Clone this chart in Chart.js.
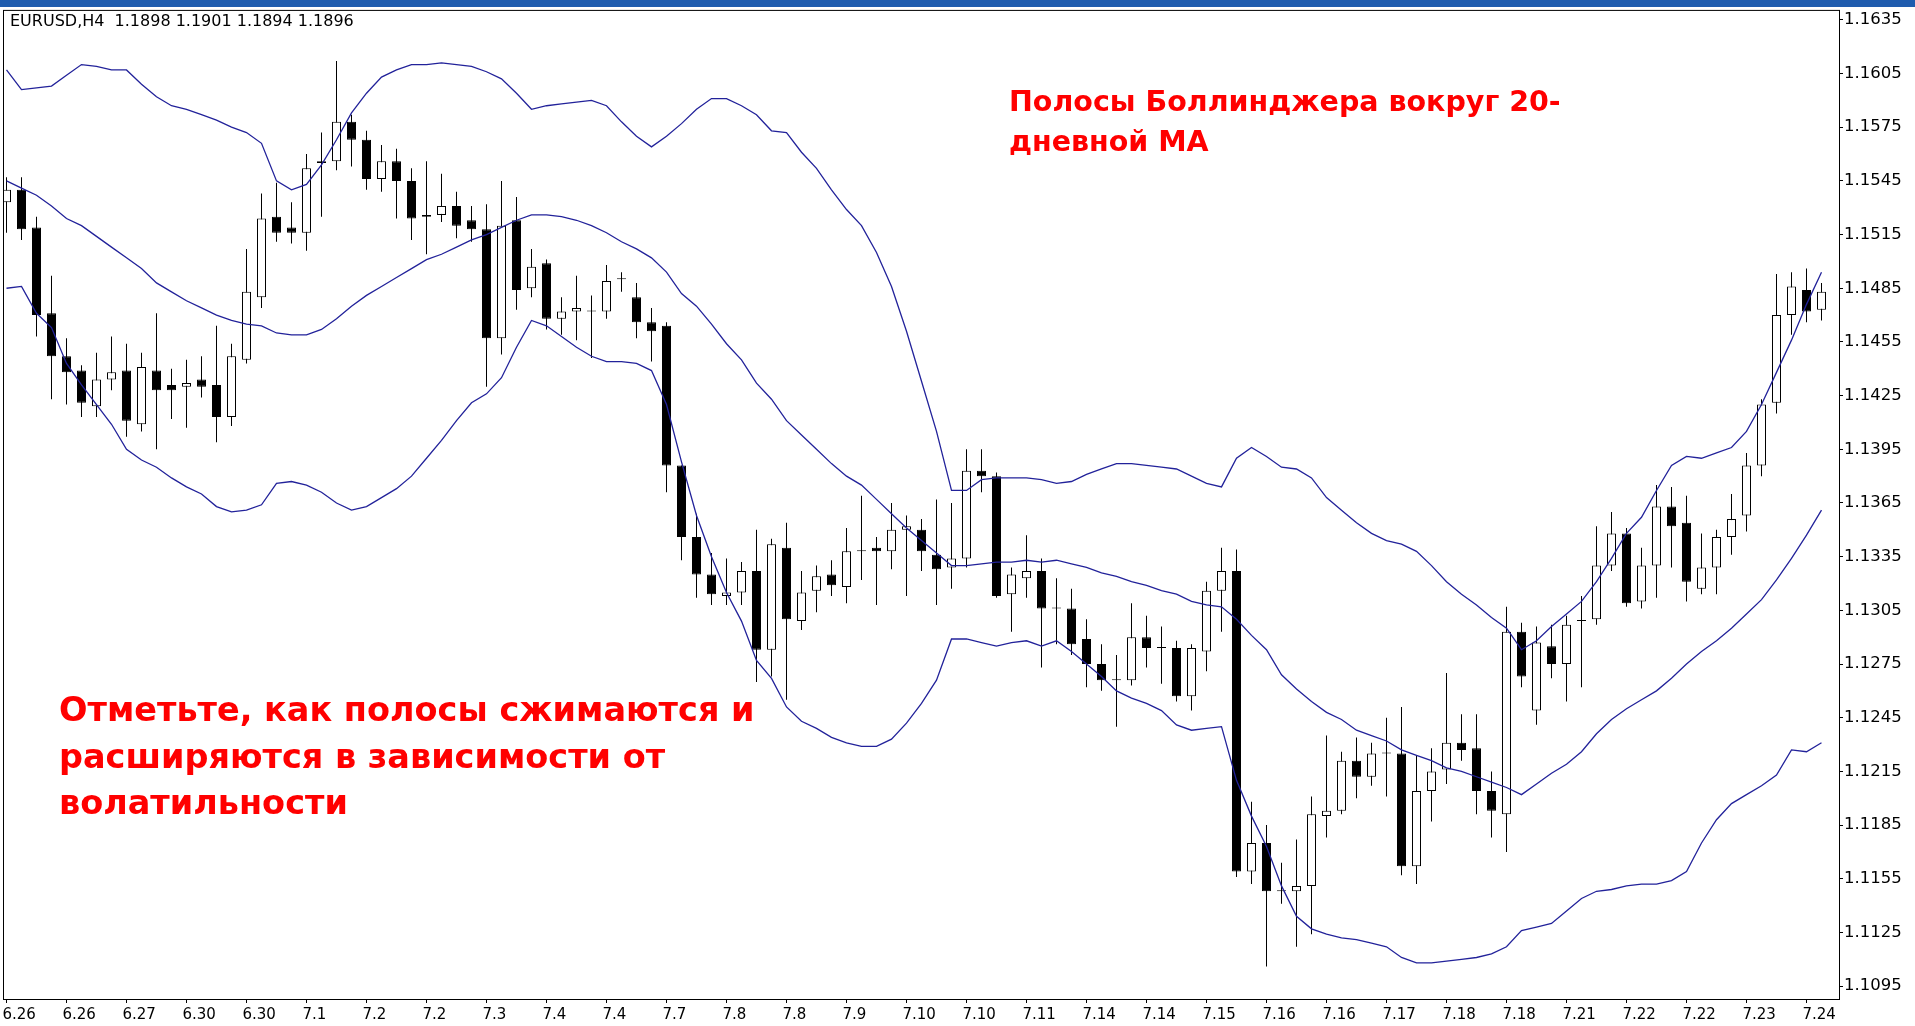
<!DOCTYPE html>
<html>
<head>
<meta charset="utf-8">
<script src="https://cdn.jsdelivr.net/npm/chart.js@4.4.0/dist/chart.umd.min.js"></script>
<style>
  html, body { margin: 0; padding: 0; background: #fff; }
  #wrap { position: relative; width: 1915px; height: 1026px; overflow: hidden; background: #fff; }
  #chart { position: absolute; left: 0; top: 0; }
  #topbar { position: absolute; left: 0; top: 0; width: 1915px; height: 7px; background: #1f5cae; }
  .hdr { position: absolute; left: 10px; top: 12px; font: 16px "DejaVu Sans"; line-height: 18px; color: #000; white-space: pre; }
  .note { position: absolute; color: #f00; font-weight: bold; font-family: "DejaVu Sans"; white-space: nowrap; }
</style>
</head>
<body>
<div id="wrap">
  <canvas id="chart" width="1915" height="1026"></canvas>
  <div id="topbar"></div>
  <div class="hdr">EURUSD,H4  1.1898 1.1901 1.1894 1.1896</div>
  <div class="note" style="left:1009px; top:82px; font-size:28.5px; line-height:40px;">Полосы Боллинджера вокруг 20-<br>дневной МА</div>
  <div class="note" style="left:59px; top:687px; font-size:33.5px; line-height:46.5px;">Отметьте, как полосы сжимаются и<br>расширяются в зависимости от<br>волатильности</div>
</div>
<script>
// H4 candles, index 0..121
const open = [1.1533,1.1540,1.1519,1.1471,1.1447,1.1439,1.1419,1.1434,1.1439,1.1409,
  1.1439,1.1431,1.1430,1.1434,1.1431,1.1413,1.1445,1.1480,1.1525,1.1519,
  1.1516,1.1555,1.1556,1.1578,1.1568,1.1546,1.1556,1.1545,1.1526,1.1526,
  1.1531,1.1523,1.1518,1.1457,1.1523,1.1485,1.1499,1.1468,1.1472,1.1472,
  1.1472,1.1490,1.1480,1.1466,1.1464,1.1386,1.1346,1.1325,1.1313,1.1315,
  1.1327,1.1283,1.1340,1.1299,1.1316,1.1325,1.1318,1.1338,1.1340,1.1338,
  1.1350,1.1350,1.1336,1.1329,1.1334,1.1383,1.1380,1.1314,1.1323,1.1327,
  1.1306,1.1306,1.1289,1.1275,1.1266,1.1266,1.1290,1.1284,1.1284,1.1257,
  1.1282,1.1316,1.1327,1.1159,1.1175,1.1148,1.1148,1.1151,1.1190,1.1193,
  1.1221,1.1212,1.1225,1.1225,1.1162,1.1204,1.1216,1.1231,1.1228,1.1204,
  1.1191,1.1293,1.1249,1.1285,1.1275,1.1299,1.1300,1.1330,1.1348,1.1310,
  1.1330,1.1363,1.1354,1.1317,1.1329,1.1346,1.1358,1.1386,1.1421,1.1470,
  1.1484,1.1473];
const high = [1.1547,1.1547,1.1525,1.1492,1.1457,1.1442,1.1449,1.1458,1.1454,1.1449,
  1.1471,1.1440,1.1445,1.1447,1.1464,1.1454,1.1507,1.1538,1.1544,1.1533,
  1.1560,1.1572,1.1612,1.1582,1.1573,1.1565,1.1563,1.1552,1.1556,1.1549,
  1.1539,1.1531,1.1532,1.1545,1.1536,1.1507,1.1501,1.1480,1.1492,1.1481,
  1.1498,1.1494,1.1488,1.1474,1.1466,1.1386,1.1359,1.1337,1.1334,1.1332,
  1.1350,1.1345,1.1354,1.1327,1.1330,1.1333,1.1351,1.1369,1.1346,1.1365,
  1.1358,1.1356,1.1367,1.1365,1.1395,1.1395,1.1382,1.1329,1.1347,1.1334,
  1.1323,1.1317,1.1300,1.1286,1.1280,1.1309,1.1302,1.1296,1.1288,1.1286,
  1.1321,1.1340,1.1339,1.1198,1.1185,1.1164,1.1177,1.1201,1.1235,1.1226,
  1.1234,1.1231,1.1245,1.1251,1.1224,1.1228,1.1270,1.1247,1.1247,1.1215,
  1.1307,1.1298,1.1296,1.1297,1.1302,1.1313,1.1352,1.1360,1.1351,1.1340,
  1.1375,1.1374,1.1369,1.1348,1.1350,1.1370,1.1393,1.1423,1.1493,1.1494,
  1.1496,1.1488];
const low = [1.1516,1.1512,1.1458,1.1423,1.1420,1.1413,1.1413,1.1428,1.1402,1.1405,
  1.1395,1.1412,1.1407,1.1424,1.1399,1.1408,1.1443,1.1474,1.1511,1.1510,
  1.1506,1.1525,1.1551,1.1553,1.1540,1.1539,1.1524,1.1512,1.1504,1.1522,
  1.1513,1.1511,1.1430,1.1448,1.1473,1.1480,1.1462,1.1459,1.1456,1.1446,
  1.1468,1.1483,1.1457,1.1444,1.1371,1.1333,1.1312,1.1308,1.1308,1.1308,
  1.1265,1.1268,1.1255,1.1294,1.1304,1.1313,1.1309,1.1322,1.1308,1.1328,
  1.1313,1.1327,1.1308,1.1317,1.1329,1.1371,1.1312,1.1293,1.1312,1.1273,
  1.1286,1.1280,1.1262,1.1260,1.1240,1.1263,1.1273,1.1264,1.1254,1.1249,
  1.1271,1.1293,1.1156,1.1152,1.1106,1.1141,1.1117,1.1124,1.1178,1.1191,
  1.1200,1.1207,1.1201,1.1157,1.1152,1.1187,1.1208,1.1221,1.1191,1.1178,
  1.1170,1.1262,1.1241,1.1267,1.1254,1.1262,1.1297,1.1327,1.1307,1.1306,
  1.1312,1.1329,1.1310,1.1314,1.1314,1.1336,1.1349,1.1380,1.1415,1.1459,
  1.1466,1.1467];
const close = [1.1540,1.1518,1.1470,1.1447,1.1438,1.1421,1.1434,1.1438,1.1411,1.1441,
  1.1428,1.1428,1.1432,1.1430,1.1413,1.1447,1.1483,1.1524,1.1516,1.1516,
  1.1552,1.1556,1.1578,1.1568,1.1546,1.1556,1.1545,1.1524,1.1525,1.1531,
  1.1520,1.1518,1.1457,1.1520,1.1484,1.1497,1.1468,1.1472,1.1474,1.1472,
  1.1489,1.1490,1.1466,1.1461,1.1386,1.1346,1.1325,1.1314,1.1315,1.1327,
  1.1283,1.1342,1.1300,1.1315,1.1324,1.1319,1.1338,1.1338,1.1338,1.1350,
  1.1352,1.1338,1.1328,1.1334,1.1383,1.1380,1.1313,1.1325,1.1327,1.1306,
  1.1306,1.1286,1.1275,1.1266,1.1266,1.1290,1.1284,1.1284,1.1257,1.1284,
  1.1316,1.1327,1.1159,1.1175,1.1148,1.1148,1.1151,1.1191,1.1193,1.1221,
  1.1212,1.1225,1.1225,1.1162,1.1204,1.1215,1.1231,1.1227,1.1204,1.1193,
  1.1293,1.1268,1.1287,1.1275,1.1297,1.1299,1.1330,1.1348,1.1309,1.1330,
  1.1363,1.1352,1.1321,1.1329,1.1346,1.1356,1.1386,1.1420,1.1470,1.1486,
  1.1472,1.1483];

// Bollinger bands (20, 2)
const upperBand = [1.1607,1.1596,1.1597,1.1598,1.1604,1.1610,1.1609,1.1607,1.1607,1.1599,
  1.1592,1.1587,1.1585,1.1582,1.1579,1.1575,1.1572,1.1566,1.1545,1.1540,
  1.1543,1.1554,1.1568,1.1583,1.1594,1.1603,1.1607,1.1610,1.1610,1.1611,
  1.1610,1.1609,1.1606,1.1602,1.1594,1.1585,1.1587,1.1588,1.1589,1.1590,
  1.1587,1.1578,1.1570,1.1564,1.1570,1.1577,1.1585,1.1591,1.1591,1.1587,
  1.1582,1.1573,1.1572,1.1561,1.1552,1.1540,1.1529,1.1520,1.1505,1.1486,
  1.1461,1.1433,1.1405,1.1372,1.1372,1.1378,1.1379,1.1379,1.1379,1.1378,
  1.1376,1.1377,1.1381,1.1384,1.1387,1.1387,1.1386,1.1385,1.1384,1.1380,
  1.1376,1.1374,1.1390,1.1396,1.1391,1.1385,1.1384,1.1379,1.1368,1.1361,
  1.1354,1.1348,1.1344,1.1342,1.1338,1.1330,1.1321,1.1314,1.1308,1.1301,
  1.1295,1.1283,1.1288,1.1296,1.1303,1.1310,1.1321,1.1334,1.1348,1.1357,
  1.1372,1.1386,1.1391,1.1390,1.1393,1.1396,1.1405,1.1420,1.1438,1.1456,
  1.1476,1.1494];
const middleBand = [1.1545,1.1541,1.1537,1.1531,1.1524,1.1520,1.1514,1.1508,1.1502,1.1496,
  1.1488,1.1483,1.1478,1.1474,1.1470,1.1467,1.1465,1.1464,1.1460,1.1459,
  1.1459,1.1462,1.1468,1.1475,1.1481,1.1486,1.1491,1.1496,1.1501,1.1504,
  1.1508,1.1512,1.1515,1.1519,1.1523,1.1526,1.1526,1.1525,1.1523,1.1520,
  1.1516,1.1511,1.1507,1.1502,1.1494,1.1482,1.1475,1.1465,1.1454,1.1445,
  1.1432,1.1423,1.1411,1.1403,1.1395,1.1387,1.1380,1.1375,1.1367,1.1359,
  1.1351,1.1344,1.1337,1.1330,1.1330,1.1331,1.1332,1.1332,1.1333,1.1332,
  1.1333,1.1331,1.1329,1.1326,1.1324,1.1321,1.1319,1.1316,1.1314,1.1310,
  1.1308,1.1307,1.1300,1.1291,1.1283,1.1269,1.1261,1.1254,1.1248,1.1244,
  1.1238,1.1235,1.1232,1.1227,1.1224,1.1221,1.1217,1.1215,1.1212,1.1209,
  1.1206,1.1202,1.1208,1.1214,1.1219,1.1226,1.1236,1.1244,1.1250,1.1255,
  1.1260,1.1267,1.1275,1.1282,1.1288,1.1295,1.1303,1.1311,1.1322,1.1334,
  1.1347,1.1361];
const lowerBand = [1.1485,1.1486,1.1471,1.1463,1.1443,1.1431,1.1420,1.1409,1.1395,1.1389,
  1.1385,1.1379,1.1374,1.1370,1.1363,1.1360,1.1361,1.1364,1.1376,1.1377,
  1.1375,1.1371,1.1365,1.1361,1.1363,1.1368,1.1373,1.1380,1.1390,1.1400,
  1.1411,1.1421,1.1426,1.1435,1.1452,1.1467,1.1464,1.1458,1.1452,1.1447,
  1.1444,1.1444,1.1443,1.1439,1.1420,1.1388,1.1358,1.1335,1.1315,1.1299,
  1.1277,1.1267,1.1251,1.1243,1.1239,1.1234,1.1231,1.1229,1.1229,1.1233,
  1.1242,1.1253,1.1266,1.1289,1.1289,1.1287,1.1285,1.1287,1.1288,1.1285,
  1.1288,1.1282,1.1275,1.1268,1.1260,1.1256,1.1253,1.1249,1.1241,1.1238,
  1.1239,1.1240,1.1210,1.1190,1.1173,1.1151,1.1134,1.1127,1.1124,1.1122,
  1.1121,1.1119,1.1117,1.1111,1.1108,1.1108,1.1109,1.1110,1.1111,1.1113,
  1.1117,1.1126,1.1128,1.1130,1.1137,1.1144,1.1148,1.1149,1.1151,1.1152,
  1.1152,1.1154,1.1159,1.1175,1.1188,1.1197,1.1202,1.1207,1.1213,1.1227,
  1.1226,1.1231];

// axis labels: one date every 4 bars, price grid every 30 pips
const dateLabels = ['6.26','6.26','6.27','6.30','6.30','7.1','7.2','7.2','7.3','7.4','7.4',
  '7.7','7.8','7.8','7.9','7.10','7.10','7.11','7.14','7.14','7.15','7.16','7.16',
  '7.17','7.18','7.18','7.21','7.22','7.22','7.23','7.24'];
const priceTicks = [1.1095,1.1125,1.1155,1.1185,1.1215,1.1245,1.1275,1.1305,1.1335,
  1.1365,1.1395,1.1425,1.1455,1.1485,1.1515,1.1545,1.1575,1.1605,1.1635];

const bandColor = '#22229a';
const idx = open.map((o, i) => i);

const frame = {
  id: 'frame',
  afterDraw(chart) {
    const { ctx, chartArea: a } = chart;
    ctx.save();
    ctx.strokeStyle = '#000';
    ctx.lineWidth = 1;
    ctx.strokeRect(a.left - 0.5, a.top - 0.5, a.right - a.left + 1, a.bottom - a.top + 1);
    ctx.restore();
  }
};

const bandLine = (vals) => ({
  type: 'line',
  data: vals.map((v, i) => ({ x: i, y: v })),
  borderColor: bandColor,
  borderWidth: 1.3,
  pointRadius: 0,
  tension: 0,
  order: 0
});

new Chart(document.getElementById('chart'), {
  type: 'bar',
  data: {
    datasets: [
      bandLine(upperBand),
      bandLine(middleBand),
      bandLine(lowerBand),
      {
        data: idx.map(i => ({ x: i, y: [open[i], close[i]] })),
        backgroundColor: idx.map(i => close[i] >= open[i] ? '#ffffff' : '#000000'),
        borderColor: '#000',
        borderWidth: 1,
        borderSkipped: false,
        barThickness: 9,
        minBarLength: 1,
        inflateAmount: 0,
        grouped: false,
        order: 1
      },
      {
        data: idx.map(i => ({ x: i, y: [low[i], high[i]] })),
        backgroundColor: '#000',
        borderWidth: 0,
        barThickness: 1,
        inflateAmount: 0,
        grouped: false,
        order: 2
      }
    ]
  },
  options: {
    responsive: false,
    animation: false,
    layout: { padding: { left: 4, top: 9, right: 0, bottom: 0 } },
    plugins: { legend: { display: false }, tooltip: { enabled: false } },
    scales: {
      x: {
        type: 'linear',
        min: -1 / 6,
        max: 122 + 1 / 6,
        offset: false,
        grid: { offset: false, drawOnChartArea: false, drawTicks: true, tickLength: 4, color: '#000' },
        border: { display: false },
        afterBuildTicks: s => { s.ticks = dateLabels.map((d, k) => ({ value: k * 4 })); },
        afterFit: s => { s.height = 27; },
        ticks: {
          autoSkip: false,
          maxRotation: 0,
          align: 'start',
          labelOffset: -4,
          padding: 3,
          color: '#000',
          font: { family: 'DejaVu Sans', size: 15 },
          callback: v => dateLabels[Math.round(v / 4)]
        }
      },
      y: {
        position: 'right',
        min: 1.10878,
        max: 1.16400,
        grid: { drawOnChartArea: false, drawTicks: true, tickLength: 4, color: '#000' },
        border: { display: false },
        afterBuildTicks: s => { s.ticks = priceTicks.map(v => ({ value: v })); },
        afterFit: s => { s.width = 76; },
        ticks: {
          padding: 1,
          color: '#000',
          font: { family: 'DejaVu Sans', size: 16.5 },
          callback: v => v.toFixed(4)
        }
      }
    }
  },
  plugins: [frame]
});
</script>
</body>
</html>
